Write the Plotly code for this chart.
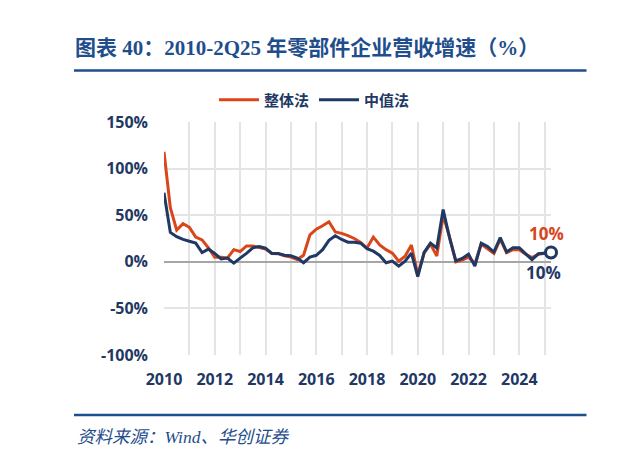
import plotly.graph_objects as go

# quarterly revenue growth, 1Q10 .. 2Q25 (%)
quarters = list(range(62))
zhengti = [118, 58, 34, 41, 37, 26.5, 23.5, 15, 5, 5, 4, 13, 11, 17, 17, 15.7,
           13.6, 9, 8.6, 6.4, 5, 2.5, 7, 29, 35, 38.6, 43, 32, 30.5, 28, 25, 20.8,
           14.8, 26.5, 18.2, 13, 9.3, 0.7, 6, 18, -14, 9.3, 19, 6.3, 50, 27, 0, 1.8,
           5, -2, 19, 14, 9, 24, 9.7, 13, 13, 8, 4.6, 8, 9, 10]
zhongzhi = [74, 31.5, 27, 24, 22, 20, 10, 13.6, 9, 3, 4, -1.4, 4, 9, 15, 16.4,
            14.6, 9, 9, 7, 6.4, 4, -1, 5, 7, 13, 23, 28, 24, 21, 21, 20,
            14, 11.4, 6.8, -1, 0.7, -4.7, 0.7, 9.3, -16, 10, 20, 14.8, 56, 26, 1, 3.6,
            8.2, -4.6, 20, 16.5, 10.5, 26, 10.7, 15, 15, 8.6, 2.3, 8.6, 9.3, 10]
year_ticks = list(range(0, 62, 4))
year_labels = [str(2010 + i // 4) if (i // 4) % 2 == 0 else "" for i in year_ticks]
pct_ticks = [-100, -50, 0, 50, 100, 150]
pct_labels = [f"{v}%" for v in pct_ticks]

ORANGE = "#D9461A"
NAVY = "#1F3864"
BLUE = "#1F4E8C"
CJK = "Noto Sans CJK SC"

# the page puts the figure 8px in from the corner, so every target pixel is shifted by OFF
OFF = 8
L, R, T, B = 164 - OFF, 551 - OFF, 122 - OFF, 355 - OFF


def px(x):
    return (x - OFF - L) / (R - L)


def py(y):
    return (B - (y - OFF)) / (B - T)


fig = go.Figure()
fig.add_trace(go.Scatter(x=quarters, y=zhengti, name="整体法", mode="lines",
                         line=dict(color=ORANGE, width=3)))
fig.add_trace(go.Scatter(x=quarters, y=zhongzhi, name="中值法", mode="lines",
                         line=dict(color=NAVY, width=3)))
fig.add_trace(go.Scatter(x=[quarters[-1]], y=[zhongzhi[-1]], mode="markers", showlegend=False,
                         marker=dict(size=11, color="white", line=dict(color=NAVY, width=3)),
                         cliponaxis=False))

fig.add_annotation(x=quarters[-1], y=zhengti[-1], text=f"{zhengti[-1]:.0f}%", showarrow=False,
                   yshift=19, xshift=-5,
                   font=dict(size=17, color=ORANGE, family="Open Sans", weight="bold"))
fig.add_annotation(x=quarters[-1], y=zhongzhi[-1], text=f"{zhongzhi[-1]:.0f}%", showarrow=False,
                   yshift=-20, xshift=-8,
                   font=dict(size=17, color=NAVY, family="Open Sans", weight="bold"))

# header / footer rules
for y in (70.5, 415):
    fig.add_shape(type="line", xref="paper", yref="paper", x0=px(74), x1=px(586.5), y0=py(y), y1=py(y),
                  line=dict(color=BLUE, width=2.5))
    fig.add_shape(type="line", xref="paper", yref="paper", x0=px(614), x1=px(620), y0=py(y), y1=py(y),
                  line=dict(color=BLUE, width=2.5))
fig.add_shape(type="line", xref="paper", yref="paper", x0=px(618), x1=px(618), y0=py(40), y1=py(57),
              line=dict(color=BLUE, width=2))

fig.add_annotation(xref="paper", yref="paper", x=px(75), y=py(437), xanchor="left", yanchor="middle",
                   text="<i>资料来源：Wind、华创证券</i>", showarrow=False,
                   font=dict(size=17.5, color=BLUE, family="Liberation Serif, " + CJK))

fig.update_layout(
    width=620, height=457,
    margin=dict(l=L, r=620 - R, t=T, b=457 - B, autoexpand=False),
    paper_bgcolor="white", plot_bgcolor="white",
    title=dict(text="<b>图表 40：2010-2Q25 年零部件企业营收增速（%）</b>",
               xref="container", yref="container", x=(75 - OFF) / 620, y=1 - (48 - OFF) / 457,
               xanchor="left", yanchor="middle",
               font=dict(size=21, color=BLUE, family="Liberation Serif, " + CJK)),
    legend=dict(orientation="h", xref="container", yref="container",
                x=(214 - OFF) / 620, y=1 - (100 - OFF) / 457,
                xanchor="left", yanchor="middle", itemwidth=40,
                font=dict(size=15, color=NAVY, family=CJK, weight="bold")),
    xaxis=dict(range=[0, 61], tickvals=year_ticks, ticktext=year_labels, showgrid=True,
               gridcolor="#E4E4E4", gridwidth=2, zeroline=False, showline=False, ticks="",
               ticklabelstandoff=13,
               tickfont=dict(size=16, color=NAVY, family="Open Sans", weight="bold")),
    yaxis=dict(range=[-100, 150], tickvals=pct_ticks, ticktext=pct_labels, showgrid=True,
               gridcolor="#E4E4E4", gridwidth=2, zeroline=True, zerolinecolor="#A6A6A6",
               zerolinewidth=1.5, showline=False, ticks="", ticklabelstandoff=15,
               tickfont=dict(size=16, color=NAVY, family="Open Sans", weight="bold")),
)

fig.write_html("out.html")
